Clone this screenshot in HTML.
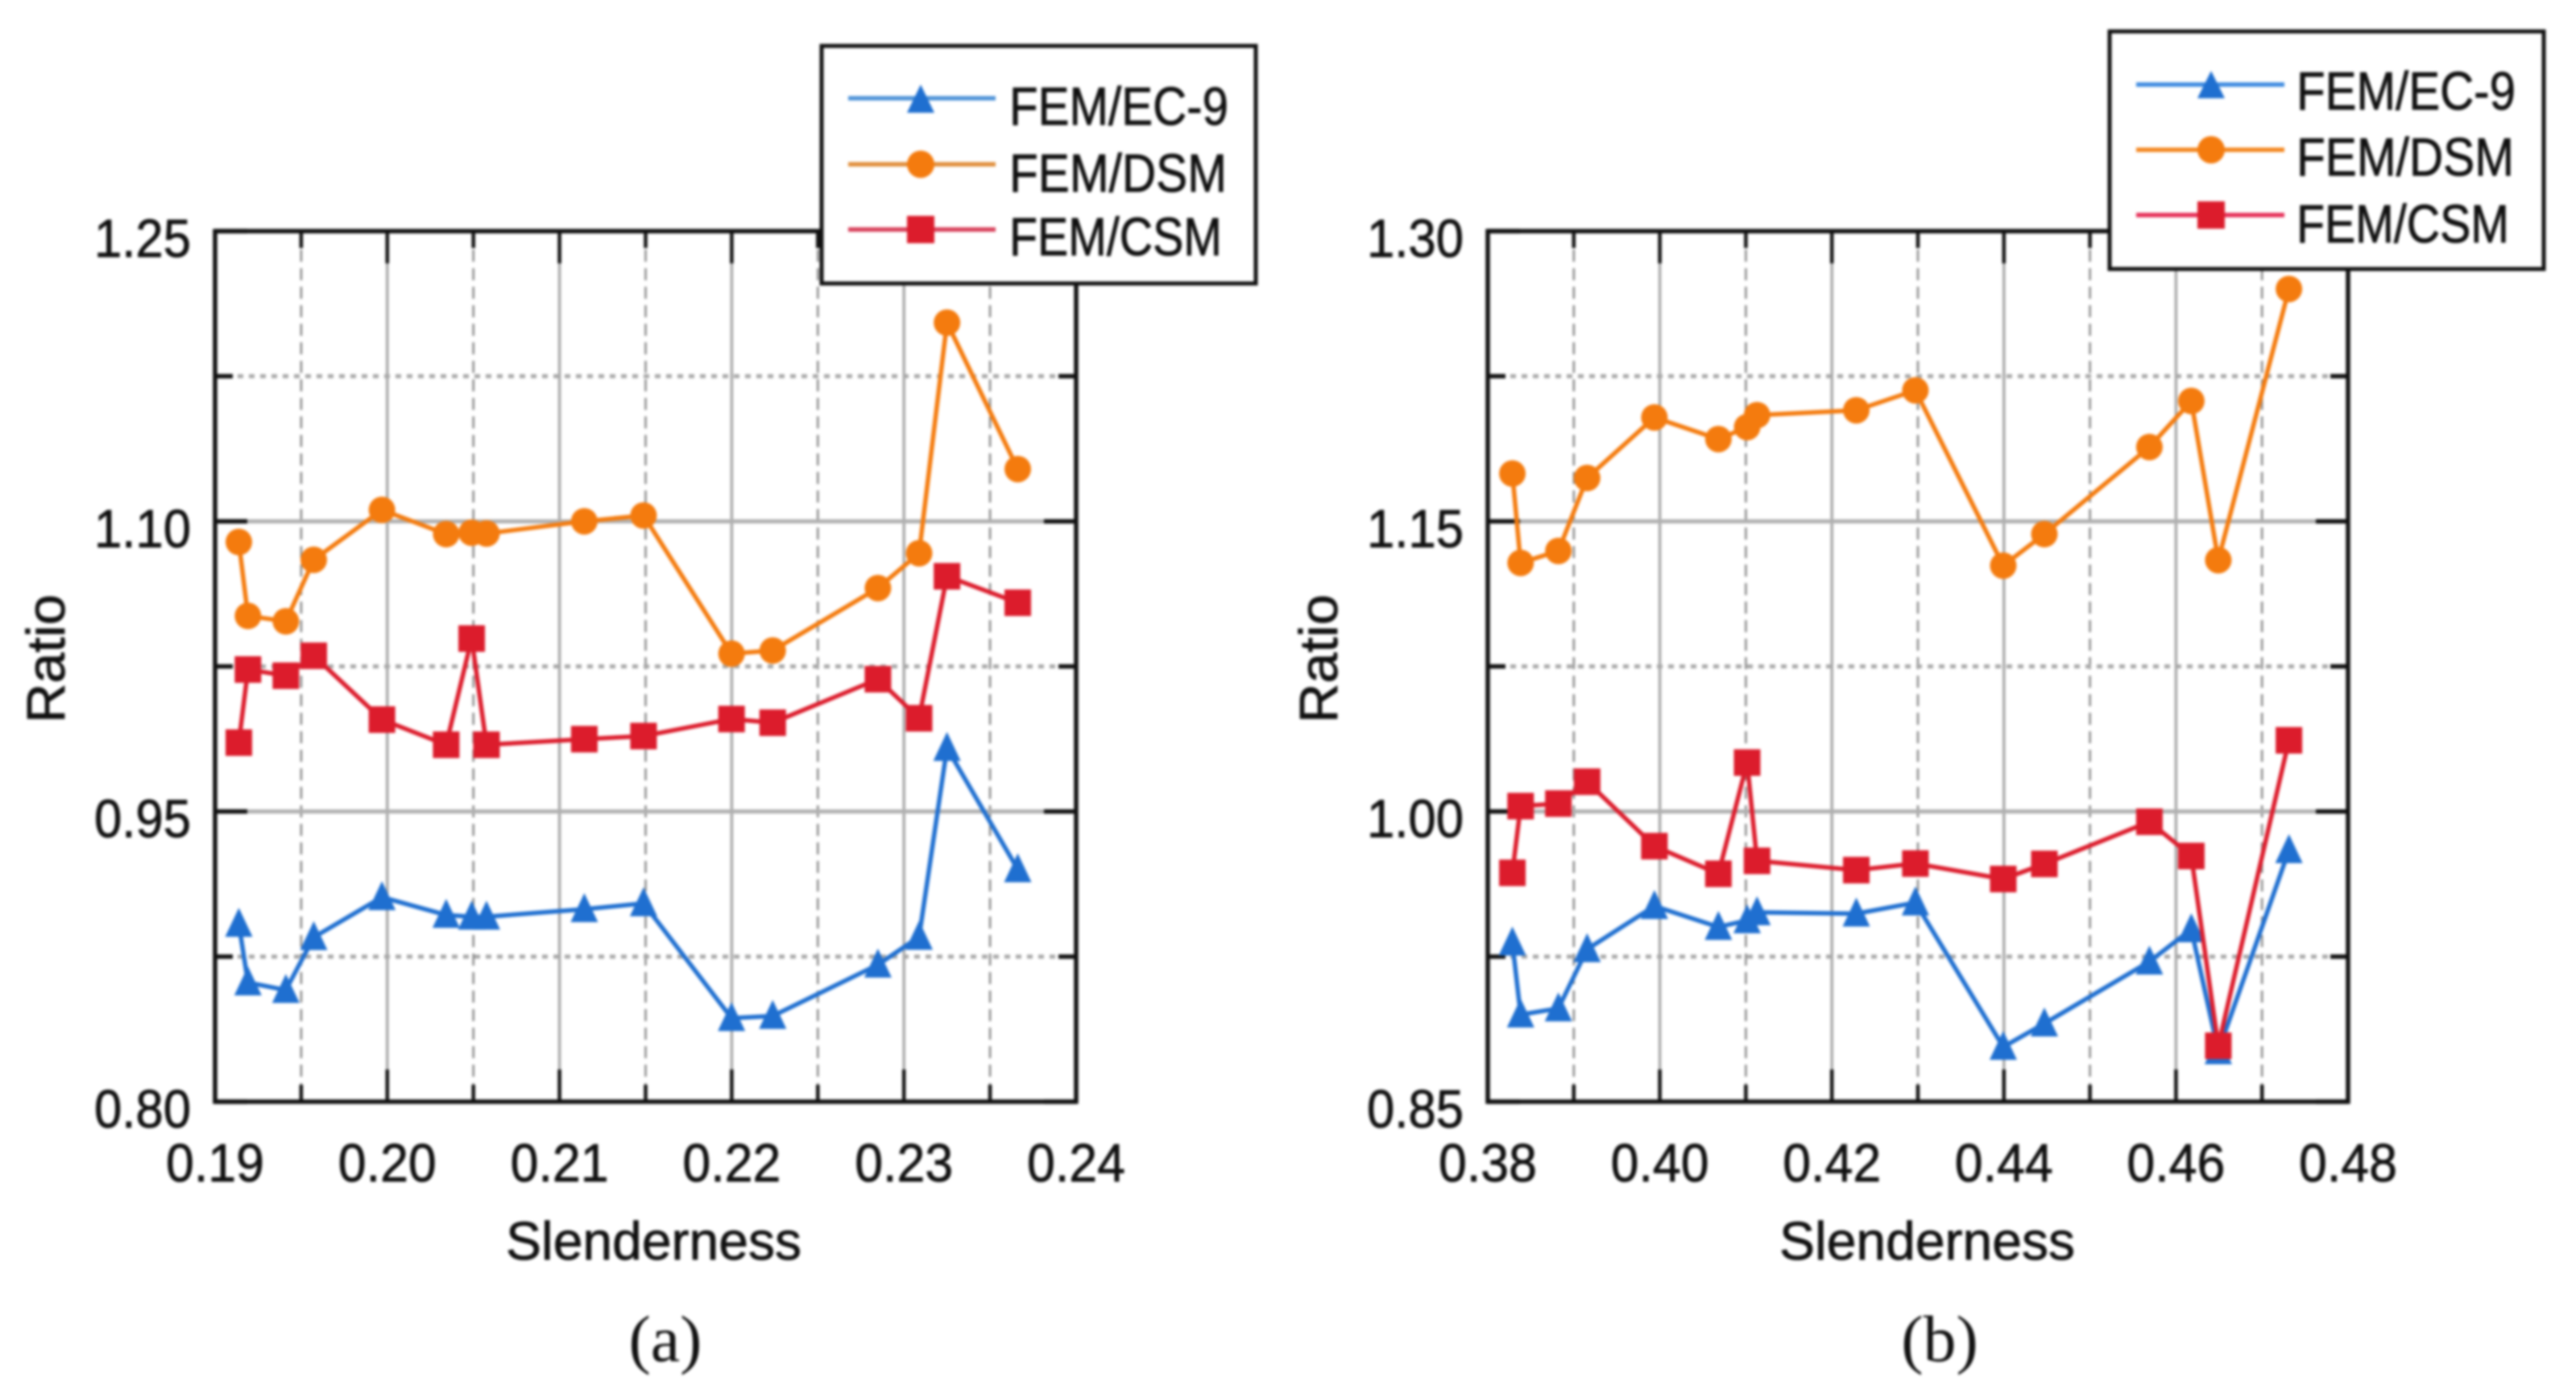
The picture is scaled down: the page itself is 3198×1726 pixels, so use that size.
<!DOCTYPE html>
<html>
<head>
<meta charset="utf-8">
<title>FEM ratio vs slenderness</title>
<style>
html,body{margin:0;padding:0;background:#fff;width:3198px;height:1726px;overflow:hidden}
svg{display:block;filter:blur(1.5px)}
text{font-family:"Liberation Sans",sans-serif;fill:#111;stroke:#111;stroke-width:0.8px}
.serif{font-family:"Liberation Serif",serif;stroke-width:0}
</style>
</head>
<body>
<svg id="figure" xmlns="http://www.w3.org/2000/svg" width="3198" height="1726" viewBox="0 0 3198 1726">
  <rect width="3198" height="1726" fill="#fff"/>
  <g id="panel-a"></g>
  <g id="panel-b"></g>

  <text transform="translate(80 818) rotate(-90)" text-anchor="middle" font-size="67" textLength="160" lengthAdjust="spacingAndGlyphs">Ratio</text>
  <text x="628" y="1564" font-size="67" textLength="367" lengthAdjust="spacingAndGlyphs">Slenderness</text>
  <text class="serif" x="826" y="1690" text-anchor="middle" font-size="82">(a)</text>
  <text transform="translate(1660 818) rotate(-90)" text-anchor="middle" font-size="67" textLength="160" lengthAdjust="spacingAndGlyphs">Ratio</text>
  <text x="2209" y="1564" font-size="67" textLength="367" lengthAdjust="spacingAndGlyphs">Slenderness</text>
  <text class="serif" x="2408" y="1690" text-anchor="middle" font-size="82">(b)</text>

  <g>
    <rect x="1020" y="57" width="539" height="295" fill="#fff" stroke="#111" stroke-width="5"/>
    <g>
      <line x1="1053" x2="1236" y1="122" y2="122" stroke="#4f93d8" stroke-width="5.5"/>
      <polygon points="1126,140 1160,140 1143,105" fill="#1f6fd0"/>
      <text x="1253" y="155" font-size="67" textLength="272" lengthAdjust="spacingAndGlyphs">FEM/EC-9</text>
    </g>
    <g>
      <line x1="1053" x2="1236" y1="204" y2="204" stroke="#e08f3c" stroke-width="5.5"/>
      <circle cx="1143" cy="204" r="17" fill="#f47b0e"/>
      <text x="1253" y="238" font-size="67" textLength="270" lengthAdjust="spacingAndGlyphs">FEM/DSM</text>
    </g>
    <g>
      <line x1="1053" x2="1236" y1="285" y2="285" stroke="#d8405a" stroke-width="5.5"/>
      <rect x="1126" y="268" width="34" height="34" fill="#dc1c2c"/>
      <text x="1253" y="317" font-size="67" textLength="264" lengthAdjust="spacingAndGlyphs">FEM/CSM</text>
    </g>
  </g>

  <g>
    <rect x="2619" y="39" width="539" height="295" fill="#fff" stroke="#111" stroke-width="5"/>
    <g>
      <line x1="2652" x2="2836" y1="105" y2="105" stroke="#3f8be0" stroke-width="5.5"/>
      <polygon points="2728,122 2762,122 2745,88" fill="#1f6fd0"/>
      <text x="2851" y="136" font-size="67" textLength="272" lengthAdjust="spacingAndGlyphs">FEM/EC-9</text>
    </g>
    <g>
      <line x1="2652" x2="2836" y1="186" y2="186" stroke="#f4861e" stroke-width="5.5"/>
      <circle cx="2745" cy="186" r="17" fill="#f47b0e"/>
      <text x="2851" y="218" font-size="67" textLength="270" lengthAdjust="spacingAndGlyphs">FEM/DSM</text>
    </g>
    <g>
      <line x1="2652" x2="2836" y1="267" y2="267" stroke="#e63058" stroke-width="5.5"/>
      <rect x="2728" y="250" width="34" height="34" fill="#dc1c2c"/>
      <text x="2851" y="301" font-size="67" textLength="264" lengthAdjust="spacingAndGlyphs">FEM/CSM</text>
    </g>
  </g>
</svg>
<script>
// Panel (a) data
const slendernessA = [0.19138,0.19191,0.19411,0.19573,0.19969,0.20342,0.20490,0.20576,0.21144,0.21488,0.21999,0.22238,0.22849,0.23088,0.23250,0.23661];
const ec9A = [0.8919,0.8616,0.8577,0.8850,0.9057,0.8965,0.8956,0.8956,0.8995,0.9025,0.8432,0.8443,0.8708,0.8852,0.9828,0.9201];
const dsmA = [1.0893,1.0511,1.0483,1.0801,1.1059,1.0934,1.0941,1.0937,1.1000,1.1030,1.0316,1.0332,1.0655,1.0835,1.2027,1.1270];
const csmA = [0.9856,1.0234,1.0202,1.0305,0.9975,0.9845,1.0394,0.9845,0.9874,0.9890,0.9978,0.9959,1.0184,0.9982,1.0716,1.0579];
const xTickLabelsA = ["0.19","0.20","0.21","0.22","0.23","0.24"];
const yTickLabelsA = ["0.80","0.95","1.10","1.25"];

// Panel (b) data
const slendernessB = [0.38286,0.38382,0.38821,0.39155,0.39937,0.40681,0.41015,0.41130,0.42284,0.42971,0.43992,0.44470,0.45691,0.46178,0.46492,0.47313];
const ec9B = [0.9322,0.8950,0.8982,0.9288,0.9511,0.9403,0.9437,0.9479,0.9472,0.9529,0.8783,0.8904,0.9224,0.9391,0.8760,0.9800];
const dsmB = [1.1747,1.1285,1.1347,1.1724,1.2037,1.1925,1.1987,1.2049,1.2074,1.2177,1.1271,1.1434,1.1884,1.2122,1.1299,1.2701];
const csmB = [0.9683,1.0028,1.0041,1.0154,0.9821,0.9678,1.0253,0.9745,0.9697,0.9731,0.9651,0.9729,0.9947,0.9770,0.8789,1.0368];
const xTickLabelsB = ["0.38","0.40","0.42","0.44","0.46","0.48"];
const yTickLabelsB = ["0.85","1.00","1.15","1.30"];

const NS = 'http://www.w3.org/2000/svg';
const BLUE = '#1f6fd0', ORANGE = '#f47b0e', RED = '#dc1c2c';

function mk(parent, tag, attrs) {
  const el = document.createElementNS(NS, tag);
  for (const k in attrs) el.setAttribute(k, attrs[k]);
  parent.appendChild(el);
  return el;
}

function drawPanel(root, suffix, box, xs, ec9, dsm, csm, xLabels, yLabels) {
  const xMin = parseFloat(xLabels[0]), xMax = parseFloat(xLabels[xLabels.length - 1]);
  const yMin = parseFloat(yLabels[0]), yMax = parseFloat(yLabels[yLabels.length - 1]);
  const xScale = v => box.left + (v - xMin) / (xMax - xMin) * (box.right - box.left);
  const yScale = v => box.bottom - (v - yMin) / (yMax - yMin) * (box.bottom - box.top);

  const xSteps = (xLabels.length - 1) * 2;
  const ySteps = (yLabels.length - 1) * 2;

  // grid
  for (let i = 1; i < xSteps; i++) {
    const major = i % 2 === 0;
    const px = xScale(xMin + (xMax - xMin) * i / xSteps);
    const g = mk(root, 'line', {x1: px, x2: px, y1: box.top, y2: box.bottom,
      stroke: major ? '#a8a8a8' : '#8a8a8a', 'stroke-width': major ? 3.5 : 2.6,
      'stroke-dasharray': major ? 'none' : '15 8'});
    
    
  }
  for (let i = 1; i < ySteps; i++) {
    const major = i % 2 === 0;
    const py = yScale(yMin + (yMax - yMin) * i / ySteps);
    const g = mk(root, 'line', {x1: box.left, x2: box.right, y1: py, y2: py,
      stroke: major ? '#b0b0b0' : '#a8a8a8', 'stroke-width': major ? 5 : 5,
      'stroke-dasharray': major ? 'none' : '7 7'});
    
    
  }

  // ticks
  for (let i = 0; i <= xSteps; i++) {
    const major = i % 2 === 0;
    const px = xScale(xMin + (xMax - xMin) * i / xSteps);
    const len = major ? 40 : 21;
    const d = `M${px} ${box.bottom}V${box.bottom - len}M${px} ${box.top}V${box.top + len}`;
    const t = mk(root, 'path', {d: d, stroke: '#111', 'stroke-width': 4.5, fill: 'none'});
    
    
  }
  for (let i = 0; i <= ySteps; i++) {
    const major = i % 2 === 0;
    const py = yScale(yMin + (yMax - yMin) * i / ySteps);
    const len = major ? 40 : 22;
    const d = `M${box.left} ${py}H${box.left + len}M${box.right} ${py}H${box.right - len}`;
    const t = mk(root, 'path', {d: d, stroke: '#111', 'stroke-width': 5.5, fill: 'none'});
    
    
  }

  // frame
  const frame = mk(root, 'rect', {x: box.left, y: box.top, width: box.right - box.left,
    height: box.bottom - box.top, fill: 'none', stroke: '#111', 'stroke-width': 5.5});
  
  

  // tick labels
  xLabels.forEach((lab, i) => {
    const t = mk(root, 'text', {x: xScale(parseFloat(lab)), y: 1467, 'text-anchor': 'middle',
      'font-size': 67, textLength: 122, lengthAdjust: 'spacingAndGlyphs'});
    t.textContent = lab;
    
    
  });
  yLabels.forEach((lab) => {
    const t = mk(root, 'text', {x: box.left - 30, y: yScale(parseFloat(lab)) + 32, 'text-anchor': 'end',
      'font-size': 67, textLength: 120, lengthAdjust: 'spacingAndGlyphs'});
    t.textContent = lab;
    
    
  });

  // series: EC-9 triangles
  const ec9Line = mk(root, 'polyline', {points: xs.map((x, i) => xScale(x) + ',' + yScale(ec9[i])).join(' '),
    fill: 'none', stroke: BLUE, 'stroke-width': 5.5, 'stroke-linejoin': 'round'});
  
  
  xs.forEach((x, i) => {
    const cx = xScale(x), cy = yScale(ec9[i]);
    const m = mk(root, 'polygon', {points: `${cx - 17},${cy + 16} ${cx + 17},${cy + 16} ${cx},${cy - 20}`, fill: BLUE});
    
    
  });

  // series: DSM circles
  const dsmLine = mk(root, 'polyline', {points: xs.map((x, i) => xScale(x) + ',' + yScale(dsm[i])).join(' '),
    fill: 'none', stroke: ORANGE, 'stroke-width': 5.5, 'stroke-linejoin': 'round'});
  
  
  xs.forEach((x, i) => {
    const m = mk(root, 'circle', {cx: xScale(x), cy: yScale(dsm[i]), r: 16.5, fill: ORANGE});
    
    
  });

  // series: CSM squares
  const csmLine = mk(root, 'polyline', {points: xs.map((x, i) => xScale(x) + ',' + yScale(csm[i])).join(' '),
    fill: 'none', stroke: RED, 'stroke-width': 5.5, 'stroke-linejoin': 'round'});
  
  
  xs.forEach((x, i) => {
    const m = mk(root, 'rect', {x: xScale(x) - 16.5, y: yScale(csm[i]) - 16.5, width: 33, height: 33, fill: RED});
    
    
  });
}

drawPanel(document.getElementById('panel-a'), 'a', {left: 267, right: 1336, top: 287, bottom: 1368},
  slendernessA, ec9A, dsmA, csmA, xTickLabelsA, yTickLabelsA);
drawPanel(document.getElementById('panel-b'), 'b', {left: 1847, right: 2915, top: 287, bottom: 1368},
  slendernessB, ec9B, dsmB, csmB, xTickLabelsB, yTickLabelsB);
</script>
</body>
</html>
